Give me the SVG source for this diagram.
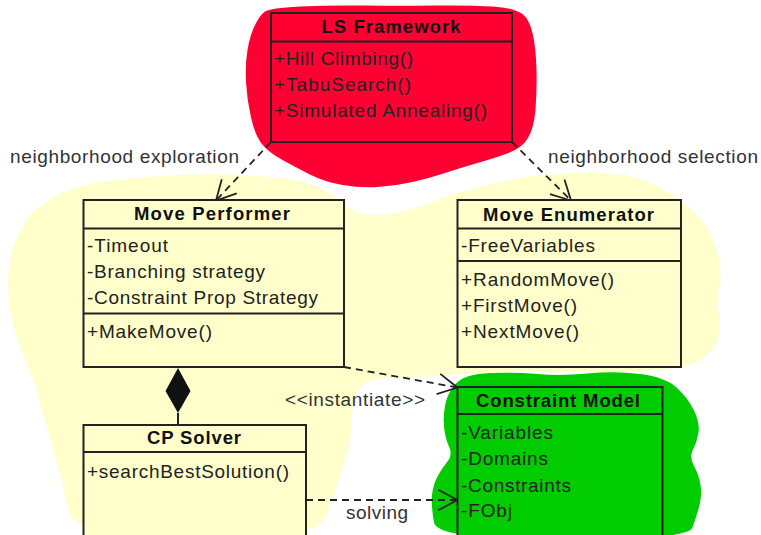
<svg xmlns="http://www.w3.org/2000/svg" width="761" height="535" viewBox="0 0 761 535">
<defs>
<style>
text{font-family:"Liberation Sans",Arial,sans-serif;font-size:19px;fill:#222}
.t{font-weight:bold;text-anchor:middle;fill:#111;font-size:18.5px}
.lbl{fill:#333}
.box{stroke:#222;stroke-width:2}
.sep{stroke:#222;stroke-width:2}
.yb{fill:#ffffcc}
.rb{fill:#ff0033}
.gb{fill:#00cc00}
.dash{fill:none;stroke:#222;stroke-width:1.8;stroke-dasharray:7,5}
</style>
<marker id="open" markerUnits="userSpaceOnUse" markerWidth="30" markerHeight="30" viewBox="-25 -15 30 30" refX="0" refY="0" orient="auto">
<path d="M-19.4,-10.3 L0,0 L-19.4,10.3" fill="none" stroke="#222" stroke-width="1.8"/>
</marker>
</defs>
<rect width="761" height="535" fill="#fff"/>
<g id="clouds">
<path class="yb" d="M31,215 Q40,205 55,196.5 Q70,188 90,184 Q110,180 155,176.5 Q200,173 233.5,174.5 Q267,176 288.5,179 Q310,182 322.5,189 Q335,196 343.5,204 Q352,212 366,214.5 Q380,217 400,212 Q420,207 432.5,202 Q445,197 462.5,191.5 Q480,186 510,180 Q540,174 570,173 Q600,172 620,174.5 Q640,177 655,185 Q670,193 685,204 Q700,215 708,230 Q716,245 719,260 Q722,275 719,287.5 Q716,300 719,314 Q722,328 717,340 Q712,352 701,359.5 Q690,367 665,369.5 Q640,372 600,371.5 Q560,371 520,372 Q480,373 450,375 Q420,377 395,377.5 Q370,378 361,386.5 Q352,395 352,412.5 Q352,430 348,447.5 Q344,465 338,482.5 Q332,500 325,517.5 Q318,540 196.5,540 Q75,540 68.5,510 Q62,480 53.5,450 Q45,420 38.5,397.5 Q32,375 23.5,355 Q15,335 11,315 Q7,295 8.5,275 Q10,255 16,240 Q22,225 31,215 Z"/>
<path class="rb" d="M265,11.5 Q270,8 300,6.5 Q330,5 365,5.5 Q400,6 435,5.5 Q470,5 492.5,6.5 Q515,8 522.5,14 Q530,20 533,35 Q536,50 536.5,70 Q537,90 535.5,109 Q534,128 528,138 Q522,148 508.5,153 Q495,158 477.5,163 Q460,168 445,173 Q430,178 412.5,182 Q395,186 377.5,187 Q360,188 342.5,185 Q325,182 311,175 Q297,168 282.5,160 Q268,152 261.5,143.5 Q255,135 251,117.5 Q247,100 246,82.5 Q245,65 247.5,50 Q250,35 255,25 Q260,15 265,11.5 Z"/>
<path class="gb" d="M456.5,383 Q465,374 490,373 Q515,372 537.5,374 Q560,376 587.5,373.5 Q615,371 640,374 Q665,377 676.5,387.5 Q688,398 694,410.5 Q700,423 698.5,432.5 Q697,442 693,449.5 Q689,457 694,466 Q699,475 700.5,485 Q702,495 699.5,505 Q697,515 692.5,527.5 Q688,540 562.5,540 Q437,540 434,522.5 Q431,505 432,495 Q433,485 437.5,476.5 Q442,468 447.5,461.5 Q453,455 449,446.5 Q445,438 444,426.5 Q443,415 445.5,403.5 Q448,392 456.5,383 Z"/>
</g>
<g id="connectors">
<path class="dash" d="M271,142 L216,200.5" marker-end="url(#open)"/>
<path class="dash" d="M512,142 L571,200.5" marker-end="url(#open)"/>
<path class="dash" d="M344,367 L457.5,387.5" marker-end="url(#open)"/>
<path class="dash" d="M306,500 L457.5,500" marker-end="url(#open)"/>
<polygon points="178,368 190.5,391 178,413 165.5,391" fill="#111"/>
<line x1="178" y1="413" x2="178" y2="425" stroke="#222" stroke-width="2"/>
<text class="lbl" x="10" y="163" textLength="229">neighborhood exploration</text>
<text class="lbl" x="548" y="163" textLength="210">neighborhood selection</text>
<text class="lbl" x="285" y="406" textLength="140">&lt;&lt;instantiate&gt;&gt;</text>
<text class="lbl" x="346" y="519" textLength="62">solving</text>
</g>
<g id="ls-framework">
<rect class="box rb" x="271" y="13" width="241" height="129"/>
<line class="sep" x1="271" y1="41.5" x2="512" y2="41.5"/>
<text class="t" x="391" y="33" textLength="139">LS Framework</text>
<text x="274" y="65" textLength="139">+Hill Climbing()</text>
<text x="274" y="91" textLength="137">+TabuSearch()</text>
<text x="274" y="117" textLength="213">+Simulated Annealing()</text>
</g>
<g id="move-performer">
<rect class="box yb" x="83.5" y="200" width="260.5" height="167"/>
<line class="sep" x1="83.5" y1="228.5" x2="344" y2="228.5"/>
<line class="sep" x1="83.5" y1="313.5" x2="344" y2="313.5"/>
<text class="t" x="212" y="220" textLength="156">Move Performer</text>
<text x="87" y="252" textLength="81">-Timeout</text>
<text x="87" y="278" textLength="178">-Branching strategy</text>
<text x="87" y="304" textLength="231">-Constraint Prop Strategy</text>
<text x="87" y="338" textLength="125">+MakeMove()</text>
</g>
<g id="move-enumerator">
<rect class="box yb" x="457.5" y="200" width="223.5" height="167"/>
<line class="sep" x1="457.5" y1="228.5" x2="681" y2="228.5"/>
<line class="sep" x1="457.5" y1="261" x2="681" y2="261"/>
<text class="t" x="568.5" y="220.5" textLength="171">Move Enumerator</text>
<text x="461" y="252" textLength="134">-FreeVariables</text>
<text x="461" y="286" textLength="153">+RandomMove()</text>
<text x="461" y="312" textLength="116">+FirstMove()</text>
<text x="461" y="338" textLength="118">+NextMove()</text>
</g>
<g id="cp-solver">
<rect class="box yb" x="83.5" y="425" width="222.5" height="125"/>
<line class="sep" x1="83.5" y1="452" x2="306" y2="452"/>
<text class="t" x="194" y="444" textLength="94">CP Solver</text>
<text x="87" y="478" textLength="202">+searchBestSolution()</text>
</g>
<g id="constraint-model">
<rect class="box gb" x="457.5" y="387" width="205" height="160"/>
<line class="sep" x1="457.5" y1="414" x2="662.5" y2="414"/>
<text class="t" x="558" y="406.5" textLength="164">Constraint Model</text>
<text x="461" y="439" textLength="92">-Variables</text>
<text x="461" y="465" textLength="87">-Domains</text>
<text x="461" y="491.5" textLength="110">-Constraints</text>
<text x="461" y="516.5" textLength="51">-FObj</text>
</g>
</svg>
